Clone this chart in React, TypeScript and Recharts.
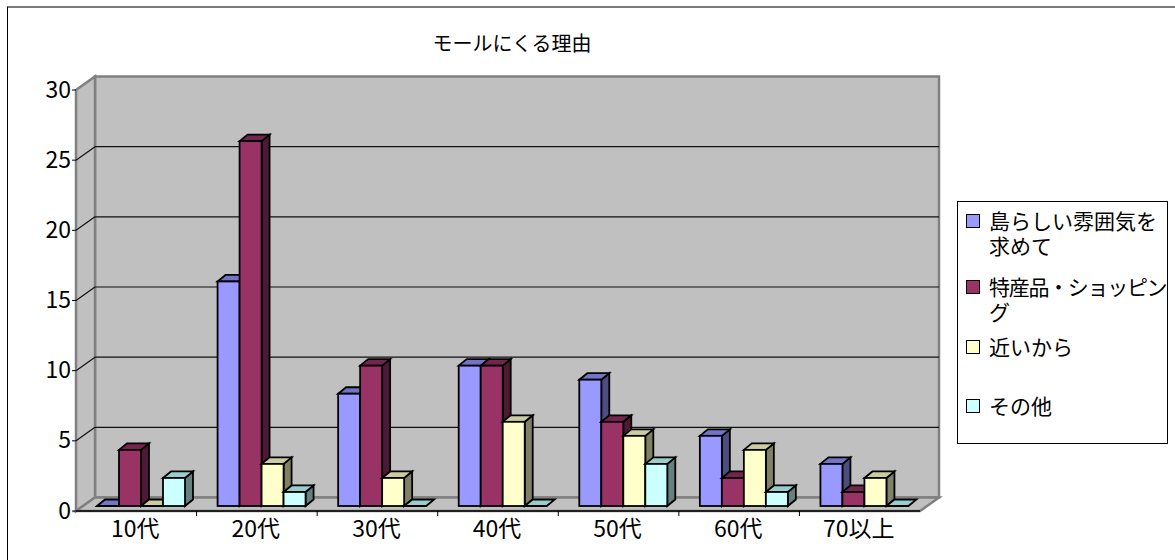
import React from 'react';
import { BarChart, Bar, XAxis, YAxis, CartesianGrid } from 'recharts';

// ---------- data ----------
const categories = ['10代', '20代', '30代', '40代', '50代', '60代', '70以上'];
const atmosphere = [0, 16, 8, 10, 9, 5, 3];
const shopping = [4, 26, 10, 10, 6, 2, 1];
const nearby = [0, 3, 2, 6, 5, 4, 2];
const other = [2, 1, 0, 0, 3, 1, 0];
const yTicks = [0, 5, 10, 15, 20, 25, 30];
const chartTitle = 'モールにくる理由';
const seriesNames = ['島らしい雰囲気を\n求めて', '特産品・ショッピン\nグ', '近いから', 'その他'];

// ---------- styles / layout ----------
const W = 1175;
const H = 560;
const PL = 81; // bar plane plot left
const PT = 85; // bar plane plot top
const PW = 844;
const PH = 421;
const FX = -5, FY = 5; // front plane offset
const BX = 14, BY = -8.5; // back wall offset
const DX = 8, DY = -6.5; // bar depth
const Y_W = 60;
const X_H = 30;
const FONT = '"Noto Sans CJK JP", "Noto Sans", sans-serif';
const WALL = '#c0c0c0';
const EDGE = '#808080';

const seriesStyles = [
  { front: '#9999ff', top: '#7373c8', side: '#4d4d80' },
  { front: '#993366', top: '#73264d', side: '#4d1a33' },
  { front: '#ffffcc', top: '#cccca3', side: '#808066' },
  { front: '#ccffff', top: '#99cccc', side: '#668080' },
];
const LEGEND_TOPS = [6, 72, 132, 191];
const LEGEND_SPACING = [0, -1.3, 0, 0];

const seriesValues = [atmosphere, shopping, nearby, other];
const data = categories.map((c, i) => {
  const row: any = { category: c };
  seriesValues.forEach((arr, s) => {
    row['s' + s] = arr[i];
  });
  return row;
});

const makeShape = (st: { front: string; top: string; side: string }) => (props: any) => {
  const { x, y, width, height } = props;
  if (x == null || y == null || width == null) return <g />;
  const w = width;
  const h = Math.max(0, height || 0);
  const topPts = `${x},${y} ${x + DX},${y + DY} ${x + w + DX},${y + DY} ${x + w},${y}`;
  const sidePts = `${x + w},${y} ${x + w + DX},${y + DY} ${x + w + DX},${y + h + DY} ${x + w},${y + h}`;
  return (
    <g>
      {h > 0 && <polygon points={sidePts} fill={st.side} stroke="#000" strokeWidth={1.8} strokeLinejoin="miter" />}
      <polygon points={topPts} fill={st.top} stroke="#000" strokeWidth={1.8} strokeLinejoin="miter" />
      {h > 0 && <rect x={x} y={y} width={w} height={h} fill={st.front} stroke="#000" strokeWidth={1.8} />}
    </g>
  );
};

const gridLine = (p: any) => {
  const y = p.y1;
  if (Math.abs(y - PT) < 0.5 || Math.abs(y - (PT + PH)) < 0.5) return <g key={p.key} />;
  return (
    <g key={p.key}>
      <line x1={p.x1 + BX} x2={p.x2 + BX} y1={y + BY} y2={y + BY} stroke="#111" strokeWidth={1.2} />
      <line x1={p.x1 + FX} y1={y + FY} x2={p.x1 + BX} y2={y + BY} stroke="#111" strokeWidth={1.2} />
    </g>
  );
};

const YTick = (p: any) => {
  const { y, payload } = p;
  return (
    <g>
      <line x1={PL + FX - 4} x2={PL + FX} y1={y + FY} y2={y + FY} stroke="#000" strokeWidth={1} />
      <text x={PL + FX - 5} y={y + 12.5} textAnchor="end" fontFamily={FONT} fontSize={23} fill="#000">
        {payload.value}
      </text>
    </g>
  );
};

const XTick = (p: any) => {
  const { x, payload, index } = p;
  const band = PW / categories.length;
  const base = PT + PH + FY;
  return (
    <g>
      {index > 0 && (
        <line x1={x - band / 2 + FX} x2={x - band / 2 + FX} y1={base} y2={base + 5} stroke="#000" strokeWidth={1} />
      )}
      <text x={x + FX - 1} y={PT + PH + 31} textAnchor="middle" fontFamily={FONT} fontSize={23} fill="#000">
        {payload.value}
      </text>
    </g>
  );
};

const Background = () => {
  const bottom = PT + PH;
  return (
    <svg width={W} height={H} style={{ position: 'absolute', left: 0, top: 0 }}>
      <text x={512} y={51} textAnchor="middle" fontFamily={FONT} fontSize={20} fill="#000">
        {chartTitle}
      </text>
      {/* back wall */}
      <rect x={PL + BX} y={PT + BY} width={PW} height={PH} fill={WALL} stroke={EDGE} strokeWidth={2.5} />
      {/* side wall */}
      <polygon
        points={`${PL + FX},${PT + FY} ${PL + BX},${PT + BY} ${PL + BX},${bottom + BY} ${PL + FX},${bottom + FY}`}
        fill={WALL}
        stroke={EDGE}
        strokeWidth={2.5}
      />
      {/* floor */}
      <polygon
        points={`${PL + FX},${bottom + FY} ${PL + BX},${bottom + BY} ${PL + PW + BX},${bottom + BY} ${PL + PW + FX},${bottom + FY}`}
        fill={WALL}
        stroke={EDGE}
        strokeWidth={2.5}
      />
      <line x1={PL + FX} x2={PL + PW + FX} y1={bottom + FY} y2={bottom + FY} stroke="#000" strokeWidth={1.5} />
    </svg>
  );
};

const Legend3D = () => (
  <div
    style={{
      position: 'absolute',
      left: 957,
      top: 201,
      width: 211,
      height: 243,
      border: '1px solid #000',
      boxSizing: 'border-box',
      background: '#fff',
      fontFamily: FONT,
      fontSize: 21,
      lineHeight: '25px',
      color: '#000',
    }}
  >
    {seriesNames.map((name, i) => (
      <div key={i} style={{ position: 'absolute', left: 8, top: LEGEND_TOPS[i], display: 'flex', alignItems: 'flex-start' }}>
        <div
          style={{
            width: 14,
            height: 14,
            marginTop: 6,
            border: '1px solid #000',
            background: seriesStyles[i].front,
            boxSizing: 'border-box',
            flex: 'none',
          }}
        />
        <div style={{ marginLeft: 9, whiteSpace: 'pre', letterSpacing: LEGEND_SPACING[i] }}>{name}</div>
      </div>
    ))}
  </div>
);

export default function App() {
  return (
    <div style={{ position: 'fixed', left: 0, top: 0, width: W, height: H, overflow: 'hidden', background: '#fff' }}>
      <div
        style={{
          position: 'absolute',
          left: 7,
          top: 6,
          width: 1400,
          height: 800,
          borderTop: '2px solid #7a7a7a',
          borderLeft: '1px solid #000',
        }}
      />
      <Background />
      <div style={{ position: 'absolute', left: 0, top: 0 }}>
        <BarChart
          width={W}
          height={H}
          data={data}
          margin={{ top: PT, left: PL - Y_W, right: W - PL - PW, bottom: H - PT - PH - X_H }}
          barGap={0}
          barSize={22}
        >
          <CartesianGrid vertical={false} horizontal={gridLine as any} />
          <XAxis dataKey="category" height={X_H} axisLine={false} tickLine={false} tick={<XTick />} interval={0} />
          <YAxis width={Y_W} domain={[0, 30]} ticks={yTicks} axisLine={false} tickLine={false} tick={<YTick />} interval={0} />
          {seriesStyles.map((st, s) => (
            <Bar key={s} dataKey={'s' + s} name={seriesNames[s]} isAnimationActive={false} shape={makeShape(st)} />
          ))}
        </BarChart>
      </div>
      <Legend3D />
    </div>
  );
}
